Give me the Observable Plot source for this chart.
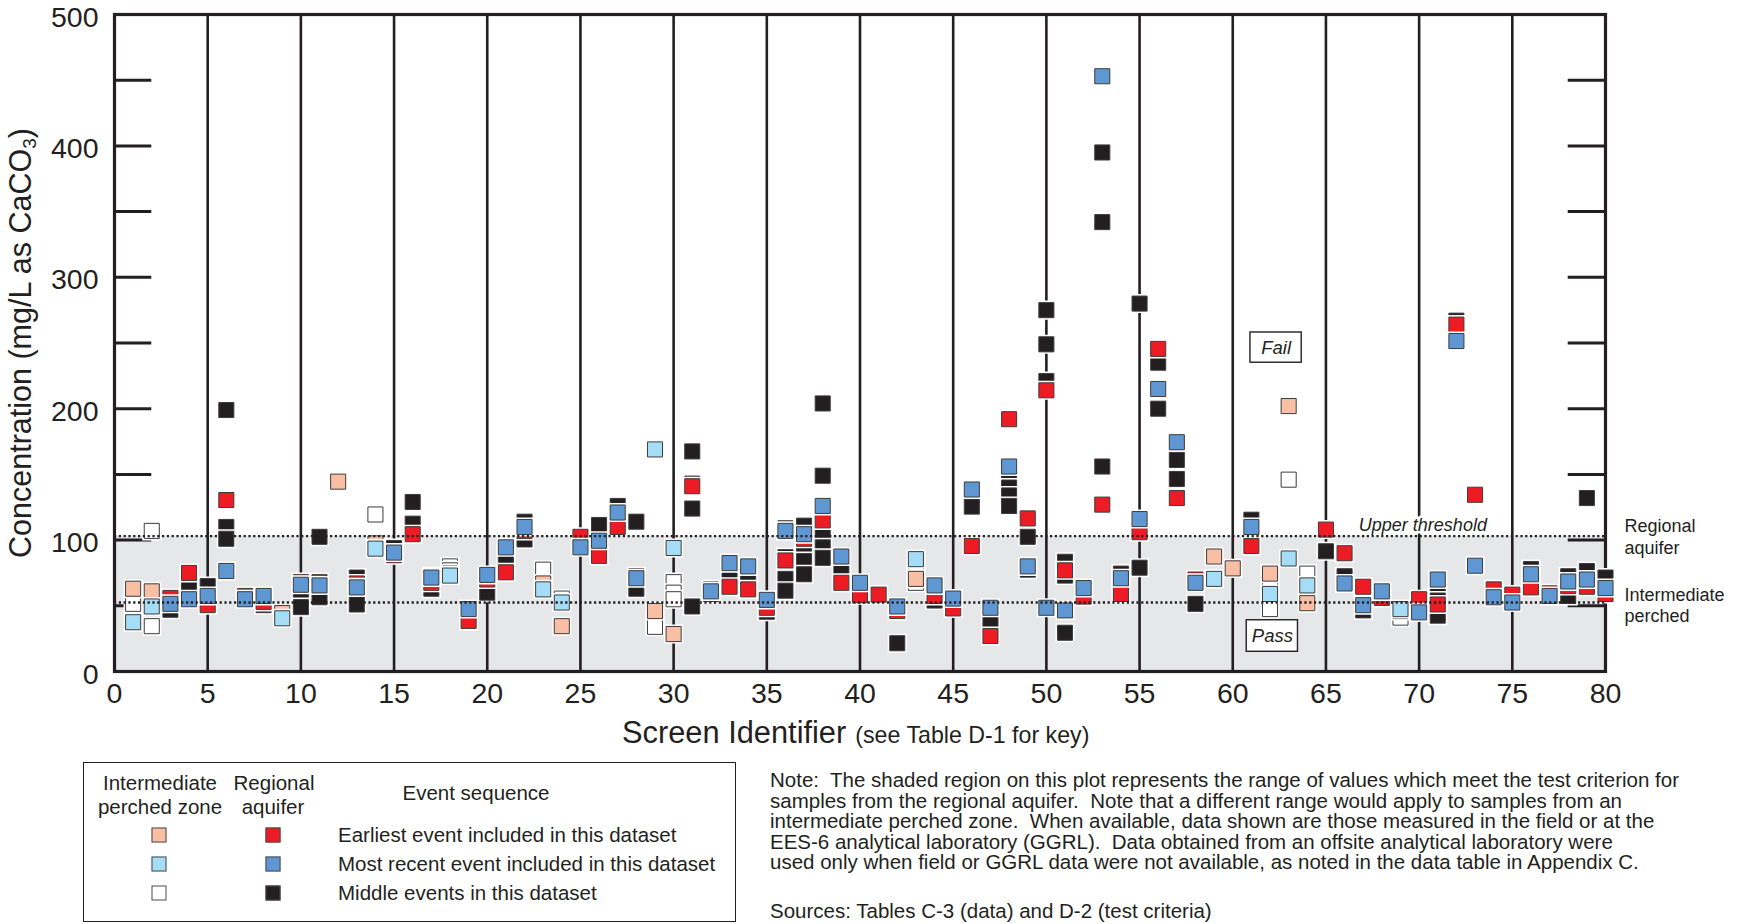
<!DOCTYPE html>
<html>
<head>
<meta charset="utf-8">
<script src="https://cdn.jsdelivr.net/npm/d3@7"></script>
<script src="https://cdn.jsdelivr.net/npm/@observablehq/plot@0.6"></script>
<style>
  body { margin: 0; background: #fff; }
  #wrap { position: relative; width: 1741px; height: 924px; overflow: hidden;
          font-family: 'Liberation Sans', Arial, sans-serif; color: #231f20; }
  #chart { position: absolute; left: 0; top: 0; }
  .c { position: absolute; transform: translate(-50%, -50%); white-space: nowrap; line-height: 1; }
  .l { position: absolute; transform: translate(0, -50%); white-space: nowrap; line-height: 1; }
  .sw { position: absolute; width: 15px; height: 15px; box-sizing: border-box; border: 1px solid #4a4a4a; transform: translate(-50%, -50%); }
  #ytitle { position: absolute; left: 20px; top: 343px; transform: translate(-50%, -50%) rotate(-90deg);
            font-size: 30.5px; white-space: nowrap; line-height: 1; }
  #ytitle sub { font-size: 19px; vertical-align: -5px; line-height: 0; }
  #xtitle { position: absolute; left: 622px; top: 733px; transform: translate(0, -50%); white-space: nowrap; line-height: 1; }
  #legend { position: absolute; left: 83px; top: 762px; width: 653px; height: 160px; box-sizing: border-box; border: 1px solid #231f20; }
  .t20 { font-size: 20.5px; }
</style>
</head>
<body>
<div id="wrap">
  <div id="chart"></div>
  <div id="ytitle">Concentration (mg/L as CaCO<sub>3</sub>)</div>
  <div id="xtitle"><span style="font-size:30.8px">Screen Identifier</span><span style="font-size:23.2px;margin-left:9px">(see Table D-1 for key)</span></div>
  <div id="legend"></div>
  <div class="c t20" style="left:160px;top:783px">Intermediate</div>
  <div class="c t20" style="left:160px;top:807px">perched zone</div>
  <div class="c t20" style="left:274px;top:783px">Regional</div>
  <div class="c t20" style="left:273px;top:807px">aquifer</div>
  <div class="c t20" style="left:476px;top:793px">Event sequence</div>
  <div class="l t20" style="left:770px;top:780px">Note:&nbsp; The shaded region on this plot represents the range of values which meet the test criterion for</div>
  <div class="l t20" style="left:770px;top:800.5px">samples from the regional aquifer.&nbsp; Note that a different range would apply to samples from an</div>
  <div class="l t20" style="left:770px;top:821px">intermediate perched zone.&nbsp; When available, data shown are those measured in the field or at the</div>
  <div class="l t20" style="left:770px;top:841.5px">EES-6 analytical laboratory (GGRL).&nbsp; Data obtained from an offsite analytical laboratory were</div>
  <div class="l t20" style="left:770px;top:862px">used only when field or GGRL data were not available, as noted in the data table in Appendix C.</div>
  <div class="l t20" style="left:770px;top:910.5px">Sources: Tables C-3 (data) and D-2 (test criteria)</div>
</div>
<script>
// ---------------- data (screen identifier, concentration mg/L as CaCO3) ----------------
const perchedEarliest = [[1,63],[2,61],[9,44.5],[12,144.5],[14,97.5],[18,74.5],[23,67],[24,34.5],[29,46],[30,28.5],[43,70.5],[59,87.5],[60,78.5],[62,74.5],[63,202],[64,52],[69,46]];
const perchedRecent = [[1,37.5],[2,49.5],[9,40.5],[14,93.5],[18,73],[23,62.5],[24,52.5],[29,169],[30,94],[43,85.5],[59,70.5],[62,59],[63,86],[64,65.5],[69,47.5]];
const perchedMiddle = [[1,51.5],[2,107],[2,34.5],[14,119.5],[18,80],[18,77],[23,77.5],[24,55.5],[29,39],[29,34],[30,68],[30,60],[30,55],[43,74],[43,67.5],[62,63],[62,47.5],[63,146],[64,74.5],[69,41]];
const regionalEarliest = [[3,56],[4,75],[5,50.5],[6,130.5],[7,57.5],[8,53],[10,68],[11,68],[13,67],[15,88.5],[16,104.5],[17,67.5],[19,38.5],[20,70],[21,75.5],[22,107],[25,102.5],[26,88],[27,110],[28,72.5],[31,141],[33,64.5],[34,62.5],[35,48.5],[36,84.5],[37,101],[38,115],[39,67.5],[40,58],[41,58.5],[42,46],[44,57.5],[45,48],[46,95.5],[47,27],[48,192],[49,116.5],[50,214],[51,77],[52,57],[53,127],[54,59],[55,106],[56,245.5],[57,132],[58,70],[61,95.5],[65,108],[66,90],[67,64.5],[68,56],[70,55],[71,51],[72,264],[73,134.5],[74,62.5],[75,58.5],[76,64],[77,59.5],[78,65],[79,64.5],[80,59]];
const regionalRecent = [[3,51.5],[4,55],[5,57.5],[6,76.5],[7,55],[8,57.5],[10,66],[11,65.5],[13,64],[15,90.5],[17,71.5],[19,47.5],[20,73.5],[21,94.5],[22,110],[25,94.5],[26,99.5],[27,121],[28,71],[32,61],[33,82.5],[34,80],[35,54.5],[36,107],[37,104.5],[38,126],[39,87.5],[40,67.5],[42,49.5],[44,65.5],[45,55.5],[46,138.5],[47,48.5],[48,156],[49,80],[50,48.5],[51,46.5],[52,63.5],[53,453],[54,71],[55,116],[56,215],[57,174.5],[58,67.5],[61,110],[66,67],[67,50.5],[68,61],[70,45],[71,70],[72,251.5],[73,80.5],[74,56.5],[75,52.5],[76,74],[77,57.5],[78,68.5],[79,70],[80,63.5]];
const regionalMiddle = [[3,49],[3,47],[4,65],[5,65],[6,199],[6,110],[6,101],[8,50.5],[10,54],[10,49],[11,102.5],[11,56.5],[13,71.5],[13,51],[15,94],[16,129],[16,112.5],[17,72.5],[17,63],[20,60],[21,88],[22,114],[22,100.5],[26,111.5],[27,126],[28,114],[28,63],[31,167.5],[31,143],[31,124],[31,49.5],[32,62.5],[32,59],[33,70],[34,70.5],[35,45.5],[36,109],[36,87],[36,76],[36,70.5],[36,61.5],[37,111],[37,92],[37,84],[37,74],[38,204],[38,149],[38,105],[38,94.5],[38,86.5],[39,79.5],[42,21.5],[44,54],[46,130],[46,125.5],[47,43],[47,38.5],[48,145],[48,140],[48,134],[48,126],[49,102.5],[49,77.5],[50,275],[50,249],[50,221],[51,83.5],[51,73],[51,29.5],[53,395],[53,342],[53,156],[54,74.5],[55,280],[55,79],[56,235],[56,200],[57,161],[57,146.5],[58,51.5],[61,115.5],[65,91.5],[66,72.5],[67,46.5],[71,58],[71,54],[71,42.5],[72,267],[76,78],[78,72.5],[78,57.5],[79,132],[79,76.5],[80,71.5]];

const xDomain = [0, 80];
const yDomain = [0, 500];
const xTickLabels = [0,5,10,15,20,25,30,35,40,45,50,55,60,65,70,75,80];
const xGridLines = [5,10,15,20,25,30,35,40,45,50,55,60,65,70,75];
const yTickLabels = [0,100,200,300,400,500];
const yInnerTicks = [50,100,150,200,250,300,350,400,450];
const shadedRange = [0, 103];          // test criterion range for regional aquifer
const thresholdLines = [103, 52.5];    // upper threshold, intermediate perched
const sideLabels = [{label: "Regional\naquifer", y: 103}, {label: "Intermediate\nperched", y: 51}];
const thresholdLabel = [{label: "Upper threshold", x: 70.2, y: 111.5}];
const verdictBoxes = [{label: "Fail", x1: 60.95, x2: 63.7, y1: 235, y2: 258}, {label: "Pass", x1: 60.75, x2: 63.5, y1: 15, y2: 39}];

// drawing order: middle events, then earliest, then most recent on top
const layerKeys = ["perchedMiddle","regionalMiddle","perchedEarliest","regionalEarliest","perchedRecent","regionalRecent"];
const layerColors = ["#ffffff","#231f20","#f9bfa5","#ed1c24","#a6ddf6","#5f97d2"];
const layerData = [perchedMiddle, regionalMiddle, perchedEarliest, regionalEarliest, perchedRecent, regionalRecent];

const points = layerData.flatMap((arr, i) => arr.map(([id, v]) => ({id, v, cat: layerKeys[i]})));

const ink = "#231f20";
const svg = Plot.plot({
  width: 1741, height: 712,
  marginLeft: 114, marginRight: 136, marginTop: 14, marginBottom: 41,
  x: {domain: xDomain},
  y: {domain: yDomain},
  color: {domain: layerKeys, range: layerColors},
  style: {fontFamily: "'Liberation Sans', Arial, sans-serif", color: ink, background: "transparent", overflow: "visible"},
  marks: [
    Plot.rect([shadedRange], {x1: () => xDomain[0], x2: () => xDomain[1], y1: d => d[0], y2: d => d[1], fill: "#e6e7e8"}),
    Plot.ruleX(xGridLines, {y1: yDomain[0], y2: yDomain[1], stroke: ink, strokeWidth: 2.6}),
    Plot.ruleY(yInnerTicks, {x1: xDomain[0], x2: xDomain[0] + 2, stroke: ink, strokeWidth: 3}),
    Plot.ruleY(yInnerTicks, {x1: xDomain[1] - 2, x2: xDomain[1], stroke: ink, strokeWidth: 3}),
    Plot.frame({stroke: ink, strokeWidth: 3.2}),
    Plot.axisX(xTickLabels, {tickSize: 0, tickPadding: 11, fontSize: 28.5, fill: ink, label: null}),
    Plot.axisY(yTickLabels, {tickSize: 0, tickPadding: 16, fontSize: 28.5, fill: ink, label: null, dy: 3}),
    Plot.text(thresholdLabel, {x: "x", y: "y", text: "label", fontSize: 18, fontStyle: "italic", fill: ink, stroke: "white", strokeWidth: 5}),
    Plot.rect(verdictBoxes, {x1: "x1", x2: "x2", y1: "y1", y2: "y2", fill: "white", stroke: ink, strokeWidth: 1.4}),
    Plot.text(verdictBoxes, {x: d => (d.x1 + d.x2) / 2, y: d => (d.y1 + d.y2) / 2, text: "label", fontSize: 18.5, fontStyle: "italic", fill: ink}),
    Plot.text(sideLabels, {x: () => xDomain[1], y: "y", text: "label", dx: 19, textAnchor: "start", lineAnchor: "middle", lineHeight: 1.22, fontSize: 18, fill: ink}),
    Plot.dot(points, {x: "id", y: "v", fill: "cat", symbol: "square", r: 8.5, stroke: "#3c3c3c", strokeWidth: 1}),
    Plot.ruleY(thresholdLines, {x1: xDomain[0], x2: xDomain[1], stroke: ink, strokeWidth: 2.3, strokeDasharray: "2.2,2.6"})
  ]
});

// white halo behind each square (gives the white separations seen in the original)
svg.querySelectorAll('g[aria-label="dot"] path').forEach(p => {
  const c = p.cloneNode(true);
  c.setAttribute("fill", "#fff");
  c.setAttribute("stroke", "#fff");
  c.setAttribute("stroke-width", "4");
  p.parentNode.insertBefore(c, p);
});
document.getElementById("chart").appendChild(svg);

// legend rows
const legendRows = [
  {label: "Earliest event included in this dataset", perched: layerColors[2], regional: layerColors[3], y: 835},
  {label: "Most recent event included in this dataset", perched: layerColors[4], regional: layerColors[5], y: 864},
  {label: "Middle events in this dataset", perched: layerColors[0], regional: layerColors[1], y: 893}
];
const lr = d3.select("#wrap");
legendRows.forEach(r => {
  lr.append("div").attr("class", "sw").style("left", "159px").style("top", r.y + "px").style("background", r.perched);
  lr.append("div").attr("class", "sw").style("left", "273px").style("top", r.y + "px").style("background", r.regional);
  lr.append("div").attr("class", "l t20").style("left", "338px").style("top", r.y + "px").text(r.label);
});
</script>
</body>
</html>
